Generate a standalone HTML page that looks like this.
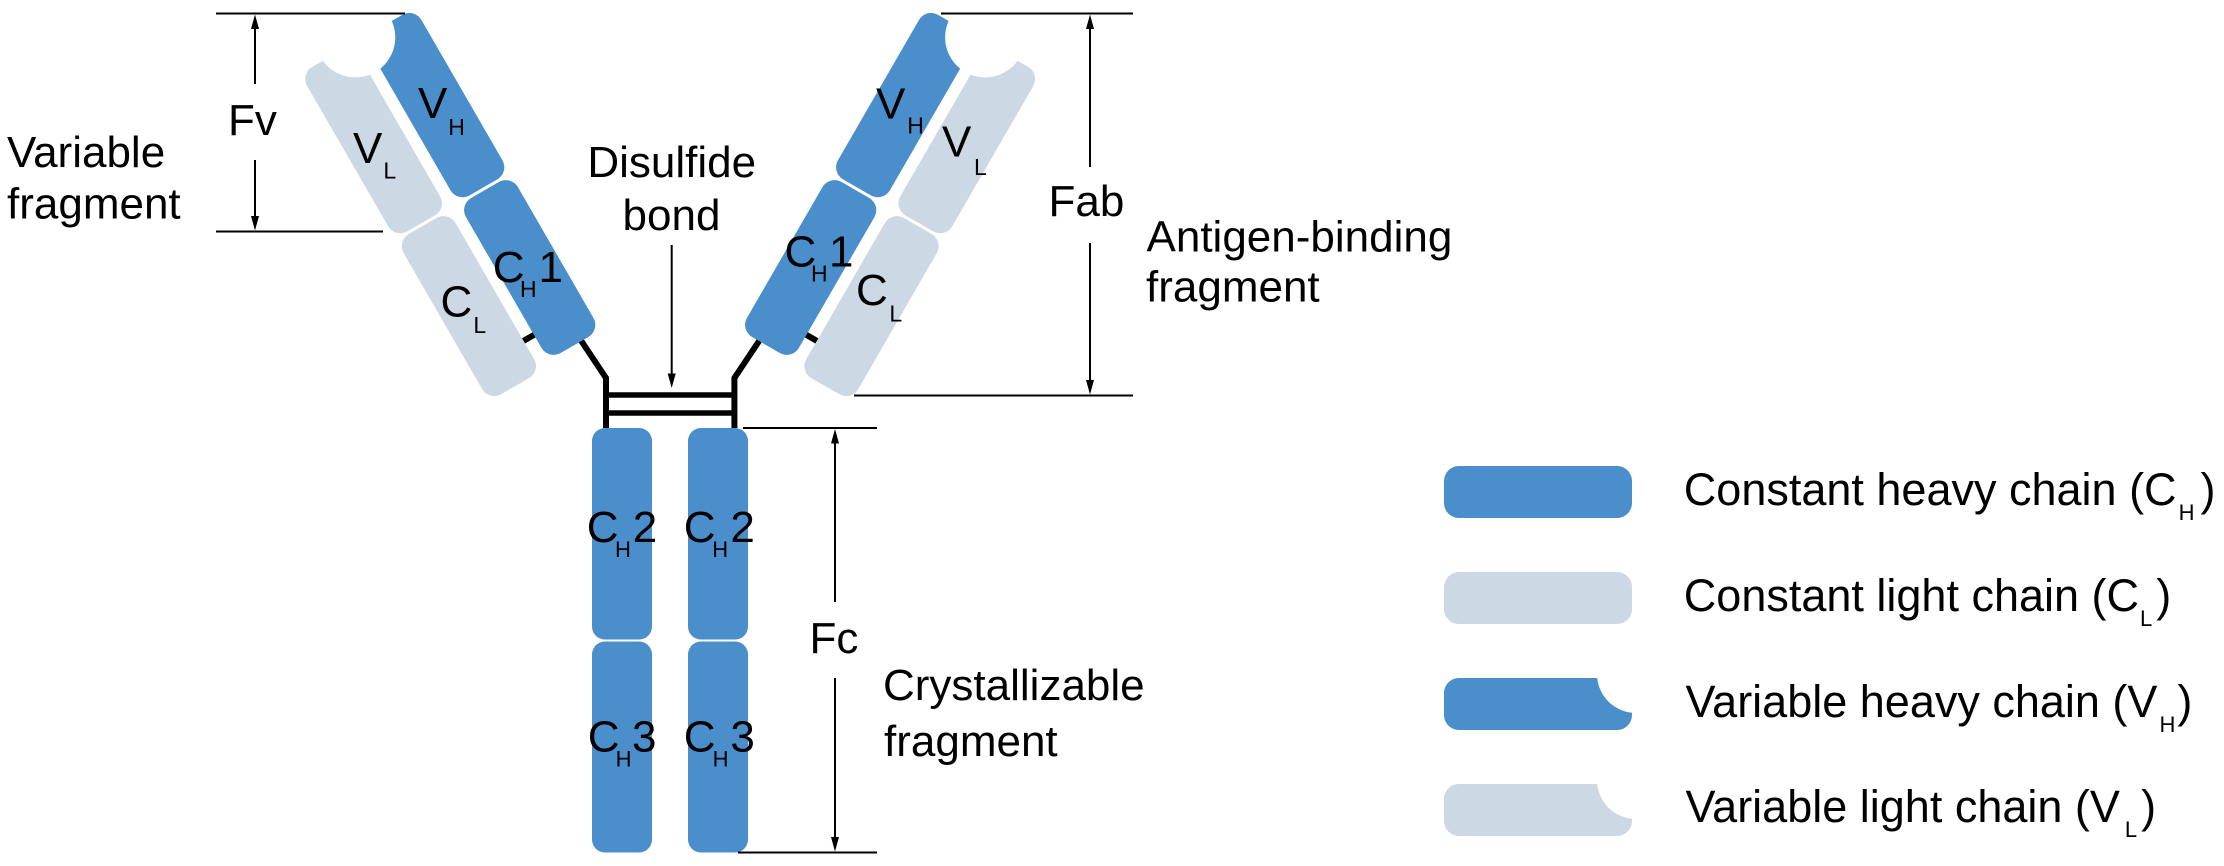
<!DOCTYPE html>
<html><head><meta charset="utf-8">
<style>
html,body{margin:0;padding:0;background:#fff;}
svg{display:block;}
text{font-family:"Liberation Sans",Arial,sans-serif;fill:#000;}
</style></head><body>
<svg width="2224" height="866" viewBox="0 0 2224 866" xmlns="http://www.w3.org/2000/svg">
<rect width="2224" height="866" fill="#fff"/>
<defs>
 <g id="arm">
   <polyline points="578,336 606,378 606,428" fill="none" stroke="#000" stroke-width="6"/>
   <g transform="rotate(-30) translate(295,214)">
     <line x1="-14" y1="343" x2="2" y2="343" stroke="#000" stroke-width="6"/>
     <rect x="0" y="0" width="60" height="190" rx="14" fill="#4a8ecb"/>
     <rect x="0" y="193" width="60" height="179" rx="14" fill="#4a8ecb"/>
     <rect x="-72" y="0" width="60" height="190" rx="14" fill="#cdd8e5"/>
     <rect x="-72" y="193" width="60" height="185" rx="14" fill="#cdd8e5"/>
     <circle cx="-6" cy="-4" r="40" fill="#fff"/>
   </g>
 </g>
</defs>

<!-- arms -->
<use href="#arm"/>
<use href="#arm" transform="translate(1340.4,0) scale(-1,1)"/>

<!-- disulfide bars -->
<line x1="606" y1="395" x2="734.4" y2="395" stroke="#000" stroke-width="5.5"/>
<line x1="606" y1="413" x2="734.4" y2="413" stroke="#000" stroke-width="5.5"/>

<!-- stems -->
<rect x="592" y="428" width="60" height="211.5" rx="13" fill="#4a8ecb"/>
<rect x="592" y="641.5" width="60" height="211" rx="13" fill="#4a8ecb"/>
<rect x="688" y="428" width="60" height="211.5" rx="13" fill="#4a8ecb"/>
<rect x="688" y="641.5" width="60" height="211" rx="13" fill="#4a8ecb"/>

<!-- dimension lines -->
<g stroke="#000" stroke-width="2" fill="none">
  <line x1="216" y1="13.5" x2="405" y2="13.5"/>
  <line x1="216" y1="231.5" x2="383" y2="231.5"/>
  <line x1="255" y1="24" x2="255" y2="84"/>
  <line x1="255" y1="160" x2="255" y2="222"/>

  <line x1="941" y1="13.5" x2="1133" y2="13.5"/>
  <line x1="854" y1="395.5" x2="1133" y2="395.5"/>
  <line x1="1090" y1="24" x2="1090" y2="167"/>
  <line x1="1090" y1="243" x2="1090" y2="386"/>

  <line x1="743" y1="428" x2="877" y2="428"/>
  <line x1="738" y1="852.5" x2="877" y2="852.5"/>
  <line x1="835" y1="438" x2="835" y2="602"/>
  <line x1="835" y1="678" x2="835" y2="843"/>

  <line x1="671.7" y1="245" x2="671.7" y2="378"/>
</g>
<g fill="#000">
  <polygon points="255,14.5 251,29 259,29"/>
  <polygon points="255,230.5 251,216 259,216"/>
  <polygon points="1090,14.5 1086,29 1094,29"/>
  <polygon points="1090,394.5 1086,380 1094,380"/>
  <polygon points="835,429 831,443.5 839,443.5"/>
  <polygon points="835,851.5 831,837 839,837"/>
  <polygon points="671.7,388 667.7,373.5 675.7,373.5"/>
</g>

<!-- big labels -->
<text x="7" y="167" font-size="44">Variable</text>
<text x="7" y="218.5" font-size="44">fragment</text>
<text x="228" y="135" font-size="44">Fv</text>
<text x="671.7" y="177" font-size="44" text-anchor="middle">Disulfide</text>
<text x="671.5" y="230" font-size="44" text-anchor="middle">bond</text>
<text x="1048.5" y="216" font-size="44">Fab</text>
<text x="1146.5" y="251.7" font-size="44">Antigen-binding</text>
<text x="1146" y="301.7" font-size="44">fragment</text>
<text x="809.5" y="653" font-size="44">Fc</text>
<text x="883" y="700" font-size="44">Crystallizable</text>
<text x="884" y="756" font-size="44">fragment</text>

<!-- left arm labels -->
<text x="418" y="118" font-size="44">V</text><text x="448.3" y="135" font-size="23">H</text>
<text x="353" y="163" font-size="44">V</text><text x="383.4" y="178.3" font-size="23">L</text>
<text x="492.8" y="282" font-size="44">C</text><text x="520" y="297" font-size="23">H</text><text x="538.5" y="282" font-size="44">1</text>
<text x="440.5" y="316.7" font-size="44">C</text><text x="473.4" y="333" font-size="23">L</text>

<!-- right arm labels -->
<text x="876" y="118.3" font-size="44">V</text><text x="907.3" y="133.3" font-size="23">H</text>
<text x="942" y="156.7" font-size="44">V</text><text x="974" y="175" font-size="23">L</text>
<text x="784.5" y="266.7" font-size="44">C</text><text x="811" y="281.7" font-size="23">H</text><text x="829" y="266.7" font-size="44">1</text>
<text x="856" y="305" font-size="44">C</text><text x="889.4" y="321.7" font-size="23">L</text>

<!-- stem labels -->
<text x="586.8" y="542" font-size="44">C</text><text x="615" y="557" font-size="22">H</text><text x="632.7" y="542" font-size="44">2</text>
<text x="683.8" y="542" font-size="44">C</text><text x="712.3" y="557" font-size="22">H</text><text x="730.4" y="542" font-size="44">2</text>
<text x="587.8" y="751.7" font-size="44">C</text><text x="615.6" y="766.7" font-size="22">H</text><text x="632" y="751.7" font-size="44">3</text>
<text x="683.8" y="751.7" font-size="44">C</text><text x="712.6" y="766.7" font-size="22">H</text><text x="730.4" y="751.7" font-size="44">3</text>

<!-- legend -->
<rect x="1444" y="466" width="188" height="52" rx="15" fill="#4a8ecb"/>
<rect x="1444" y="572" width="188" height="52" rx="15" fill="#cdd8e5"/>
<rect x="1444" y="678" width="188" height="52" rx="15" fill="#4a8ecb"/>
<rect x="1444" y="784" width="188" height="52" rx="15" fill="#cdd8e5"/>
<circle cx="1636" cy="674" r="39" fill="#fff"/>
<circle cx="1636" cy="780" r="39" fill="#fff"/>

<text x="1683.8" y="505" font-size="45">Constant heavy chain (C<tspan font-size="22" dy="15" dx="2">H</tspan><tspan dy="-15" dx="6">)</tspan></text>
<text x="1683.8" y="611" font-size="45">Constant light chain (C<tspan font-size="22" dy="15" dx="1">L</tspan><tspan dy="-15" dx="4">)</tspan></text>
<text x="1685.5" y="717" font-size="45">Variable heavy chain (V<tspan font-size="22" dy="15" dx="2">H</tspan><tspan dy="-15" dx="2">)</tspan></text>
<text x="1685.5" y="822" font-size="45">Variable light chain (V<tspan font-size="22" dy="15" dx="5">L</tspan><tspan dy="-15" dx="4">)</tspan></text>
</svg>
</body></html>
